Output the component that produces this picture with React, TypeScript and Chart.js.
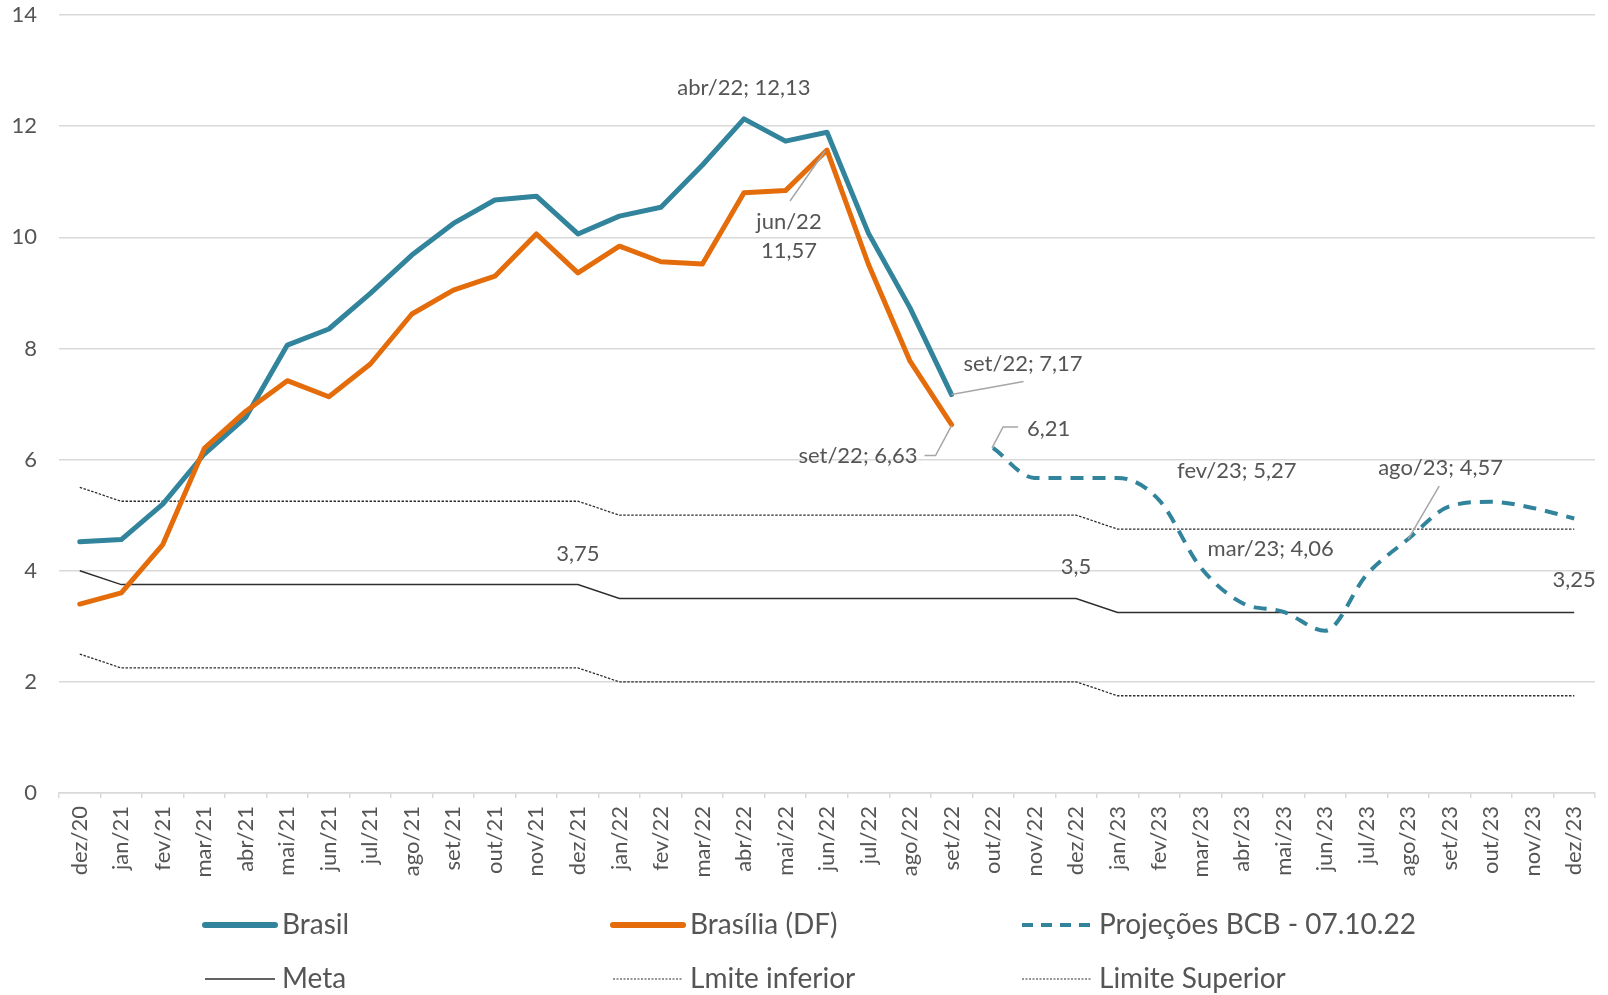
import React, { useEffect, useRef } from "react";
import { Chart, registerables } from "chart.js";

Chart.register(...registerables);

const months = [
  "dez/20", "jan/21", "fev/21", "mar/21", "abr/21", "mai/21", "jun/21", "jul/21", "ago/21", "set/21", "out/21", "nov/21", "dez/21",
  "jan/22", "fev/22", "mar/22", "abr/22", "mai/22", "jun/22", "jul/22", "ago/22", "set/22", "out/22", "nov/22", "dez/22",
  "jan/23", "fev/23", "mar/23", "abr/23", "mai/23", "jun/23", "jul/23", "ago/23", "set/23", "out/23", "nov/23", "dez/23",
];

const brasil = [
  4.52, 4.56, 5.2, 6.1, 6.76, 8.06, 8.35, 8.99, 9.68, 10.25, 10.67, 10.74, 10.06,
  10.38, 10.54, 11.3, 12.13, 11.73, 11.89, 10.07, 8.73, 7.17, null, null, null,
  null, null, null, null, null, null, null, null, null, null, null, null,
];

const brasilia = [
  3.4, 3.6, 4.47, 6.2, 6.87, 7.42, 7.13, 7.72, 8.62, 9.05, 9.3, 10.06, 9.36,
  9.84, 9.56, 9.52, 10.8, 10.84, 11.57, 9.51, 7.77, 6.63, null, null, null,
  null, null, null, null, null, null, null, null, null, null, null, null,
];

const projecoes = [
  null, null, null, null, null, null, null, null, null, null, null, null, null,
  null, null, null, null, null, null, null, null, null, 6.21, 5.67, 5.67,
  5.67, 5.27, 4.06, 3.42, 3.26, 2.92, 3.93, 4.57, 5.16, 5.24, 5.13, 4.94,
];

const meta = [
  4.0, 3.75, 3.75, 3.75, 3.75, 3.75, 3.75, 3.75, 3.75, 3.75, 3.75, 3.75, 3.75,
  3.5, 3.5, 3.5, 3.5, 3.5, 3.5, 3.5, 3.5, 3.5, 3.5, 3.5, 3.5,
  3.25, 3.25, 3.25, 3.25, 3.25, 3.25, 3.25, 3.25, 3.25, 3.25, 3.25, 3.25,
];

const limiteInferior = [
  2.5, 2.25, 2.25, 2.25, 2.25, 2.25, 2.25, 2.25, 2.25, 2.25, 2.25, 2.25, 2.25,
  2.0, 2.0, 2.0, 2.0, 2.0, 2.0, 2.0, 2.0, 2.0, 2.0, 2.0, 2.0,
  1.75, 1.75, 1.75, 1.75, 1.75, 1.75, 1.75, 1.75, 1.75, 1.75, 1.75, 1.75,
];

const limiteSuperior = [
  5.5, 5.25, 5.25, 5.25, 5.25, 5.25, 5.25, 5.25, 5.25, 5.25, 5.25, 5.25, 5.25,
  5.0, 5.0, 5.0, 5.0, 5.0, 5.0, 5.0, 5.0, 5.0, 5.0, 5.0, 5.0,
  4.75, 4.75, 4.75, 4.75, 4.75, 4.75, 4.75, 4.75, 4.75, 4.75, 4.75, 4.75,
];

const seriesNames = ["Brasil", "Brasília (DF)", "Projeções BCB - 07.10.22", "Meta", "Lmite inferior", "Limite Superior"];

const yTicks = [0, 2, 4, 6, 8, 10, 12, 14];

const TEAL = "#31849B";
const ORANGE = "#E46C0A";
const TEXT = "#555555";
const GRID = "#d9d9d9";
const LEADER = "#a6a6a6";
const DARK = "#2e2e2e";
const FONT = "Lato";

type Ann = {
  ds: number;
  i: number;
  lines: string[];
  dx: number;
  dy: number;
  align: CanvasTextAlign;
  leader?: [number, number][];
};

const annotations: Ann[] = [
  { ds: 0, i: 16, lines: ["abr/22; 12,13"], dx: 0, dy: -31, align: "center" },
  { ds: 1, i: 18, lines: ["jun/22", "11,57"], dx: -38, dy: 72, align: "center", leader: [[-2, 1], [-37, 51]] },
  { ds: 0, i: 21, lines: ["set/22; 7,17"], dx: 12, dy: -31, align: "left", leader: [[0, 0], [72, -13]] },
  { ds: 1, i: 21, lines: ["set/22; 6,63"], dx: -34, dy: 31, align: "right", leader: [[0, 1], [-16, 31], [-27, 31]] },
  { ds: 2, i: 22, lines: ["6,21"], dx: 34, dy: -19, align: "left", leader: [[-1, 0], [10, -21], [25, -21]] },
  { ds: 2, i: 26, lines: ["fev/23; 5,27"], dx: 18, dy: -29, align: "left" },
  { ds: 2, i: 27, lines: ["mar/23; 4,06"], dx: 7, dy: -18, align: "left" },
  { ds: 2, i: 32, lines: ["ago/23; 4,57"], dx: -30, dy: -71, align: "left", leader: [[0, 0], [31, -53]] },
  { ds: 3, i: 12, lines: ["3,75"], dx: 0, dy: -31, align: "center" },
  { ds: 3, i: 24, lines: ["3,5"], dx: 0, dy: -32, align: "center" },
  { ds: 3, i: 36, lines: ["3,25"], dx: 0, dy: -32, align: "center" },
];

const seriesData = [brasil, brasilia, projecoes, meta, limiteInferior, limiteSuperior];

const annotationPlugin = {
  id: "annotationPlugin",
  afterDatasetsDraw(chart: any) {
    const ctx = chart.ctx;
    const xs = chart.scales.x;
    const ys = chart.scales.y;
    ctx.save();
    for (const a of annotations) {
      const v = seriesData[a.ds][a.i] as number;
      const px = xs.getPixelForValue(a.i);
      const py = ys.getPixelForValue(v);
      if (a.leader) {
        ctx.strokeStyle = LEADER;
        ctx.lineWidth = 1.5;
        ctx.beginPath();
        a.leader.forEach(([lx, ly], k) => {
          if (k === 0) ctx.moveTo(px + lx, py + ly);
          else ctx.lineTo(px + lx, py + ly);
        });
        ctx.stroke();
      }
      ctx.fillStyle = TEXT;
      ctx.font = `22px ${FONT}`;
      ctx.textAlign = a.align;
      ctx.textBaseline = "middle";
      a.lines.forEach((t, k) => {
        ctx.fillText(t, px + a.dx, py + a.dy + k * 29);
      });
    }
    ctx.restore();
  },
};

type LegendItem = { label: string; color: string; width: number; dash: number[]; col: number; row: number };

const legendItems: LegendItem[] = [
  { label: seriesNames[0], color: TEAL, width: 6, dash: [], col: 0, row: 0 },
  { label: seriesNames[1], color: ORANGE, width: 6, dash: [], col: 1, row: 0 },
  { label: seriesNames[2], color: TEAL, width: 4, dash: [11, 8], col: 2, row: 0 },
  { label: seriesNames[3], color: DARK, width: 1.5, dash: [], col: 0, row: 1 },
  { label: seriesNames[4], color: DARK, width: 1.2, dash: [2, 1.5], col: 1, row: 1 },
  { label: seriesNames[5], color: DARK, width: 1.2, dash: [2, 1.5], col: 2, row: 1 },
];

const legendCols = [205, 613, 1022];
const legendRows = [925, 979];

const legendPlugin = {
  id: "customLegend",
  afterDraw(chart: any) {
    const ctx = chart.ctx;
    ctx.save();
    for (const it of legendItems) {
      const x = legendCols[it.col];
      const y = legendRows[it.row];
      ctx.strokeStyle = it.color;
      ctx.lineWidth = it.width;
      ctx.setLineDash(it.dash);
      ctx.lineCap = it.width > 3 && it.dash.length === 0 ? "round" : "butt";
      ctx.beginPath();
      ctx.moveTo(x, y);
      ctx.lineTo(x + 70, y);
      ctx.stroke();
      ctx.setLineDash([]);
      ctx.fillStyle = TEXT;
      ctx.font = `28px ${FONT}`;
      ctx.textAlign = "left";
      ctx.textBaseline = "middle";
      ctx.fillText(it.label, x + 77, y);
    }
    ctx.restore();
  },
};

export default function App() {
  const canvasRef = useRef<HTMLCanvasElement | null>(null);

  useEffect(() => {
    document.body.style.margin = "0";
    const canvas = canvasRef.current;
    if (!canvas) return;
    const chart = new Chart(canvas, {
      type: "line",
      data: {
        labels: months,
        datasets: [
          {
            label: seriesNames[0],
            data: brasil,
            borderColor: TEAL,
            backgroundColor: TEAL,
            borderWidth: 5,
            pointRadius: 0,
            borderCapStyle: "round",
            borderJoinStyle: "round",
            tension: 0,
            order: 1,
          },
          {
            label: seriesNames[1],
            data: brasilia,
            borderColor: ORANGE,
            backgroundColor: ORANGE,
            borderWidth: 5,
            pointRadius: 0,
            borderCapStyle: "round",
            borderJoinStyle: "round",
            tension: 0,
            order: 0,
          },
          {
            label: seriesNames[2],
            data: projecoes,
            borderColor: TEAL,
            backgroundColor: TEAL,
            borderWidth: 4,
            borderDash: [13, 9],
            pointRadius: 0,
            cubicInterpolationMode: "monotone",
            order: 2,
          },
          {
            label: seriesNames[3],
            data: meta,
            borderColor: DARK,
            borderWidth: 1.5,
            pointRadius: 0,
            tension: 0,
            order: 3,
          },
          {
            label: seriesNames[4],
            data: limiteInferior,
            borderColor: DARK,
            borderWidth: 1.3,
            borderDash: [2.5, 1.5],
            pointRadius: 0,
            tension: 0,
            order: 4,
          },
          {
            label: seriesNames[5],
            data: limiteSuperior,
            borderColor: DARK,
            borderWidth: 1.3,
            borderDash: [2.5, 1.5],
            pointRadius: 0,
            tension: 0,
            order: 5,
          },
        ],
      },
      options: {
        responsive: false,
        animation: false,
        layout: { padding: { left: 0, right: 13, top: 15, bottom: 0 } },
        plugins: {
          legend: { display: false },
          tooltip: { enabled: false },
        },
        scales: {
          x: {
            type: "category",
            offset: true,
            grid: {
              offset: true,
              drawOnChartArea: false,
              drawTicks: true,
              tickLength: 5,
              color: GRID,
              lineWidth: 1.5,
            },
            border: { display: true, color: GRID, width: 1.5 },
            ticks: {
              autoSkip: false,
              minRotation: 90,
              maxRotation: 90,
              padding: 8,
              color: TEXT,
              font: { family: FONT, size: 22 },
            },
            afterFit(scale: any) {
              scale.height = 202;
              scale.paddingLeft = 0;
              scale.paddingRight = 0;
              scale.paddingTop = 0;
              scale.paddingBottom = 0;
            },
          },
          y: {
            min: 0,
            max: 14,
            afterBuildTicks(scale: any) {
              scale.ticks = yTicks.map((v) => ({ value: v }));
            },
            grid: { color: GRID, lineWidth: 1.5, drawTicks: false },
            border: { display: false },
            ticks: {
              padding: 22,
              color: TEXT,
              font: { family: FONT, size: 22 },
            },
            afterFit(scale: any) {
              scale.width = 59;
              scale.paddingTop = 0;
              scale.paddingBottom = 0;
              scale.paddingLeft = 0;
              scale.paddingRight = 0;
            },
          },
        },
      },
      plugins: [annotationPlugin, legendPlugin],
    } as any);
    return () => chart.destroy();
  }, []);

  return (
    <div style={{ position: "absolute", left: 0, top: 0, width: 1608, height: 995, background: "#fff" }}>
      <canvas ref={canvasRef} width={1608} height={995} />
    </div>
  );
}
